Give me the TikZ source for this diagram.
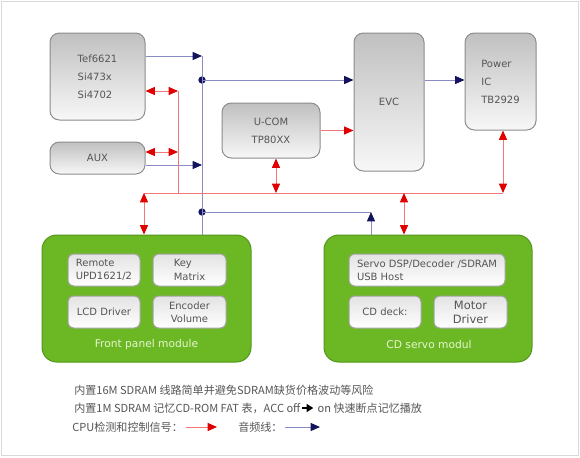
\documentclass[tikz,border=0pt]{standalone}
\usepackage{fontspec}
\setmainfont{DejaVu Sans}
\newfontfamily\cjk{Noto Sans CJK SC}
\usetikzlibrary{arrows.meta,positioning}
\definecolor{boxedge}{HTML}{8C8C8C}
\definecolor{boxtop}{HTML}{C0C0C0}
\definecolor{leaf}{HTML}{6CB824}
\definecolor{leafedge}{HTML}{52961A}
\definecolor{leaftext}{HTML}{E6F5D0}
\definecolor{audio}{HTML}{8A8AC4}
\definecolor{audiotip}{HTML}{14145E}
\definecolor{ctrl}{HTML}{F07878}
\definecolor{ctrltip}{HTML}{E00000}
\definecolor{ink}{HTML}{555555}
\tikzset{
  dims/.style 2 args={minimum width=#1*0.75pt,minimum height=#2*0.75pt},
  chip/.style={draw=boxedge,line width=0.75pt,rounded corners=7pt,top color=boxtop,
    bottom color=white!94!gray,text=ink,font=\fontsize{7.5}{13.5}\selectfont,
    align=left,inner sep=0pt},
  module/.style={draw=leafedge,line width=0.75pt,fill=leaf,rounded corners=11pt,inner sep=0pt},
  part/.style={draw=boxedge!80,line width=0.75pt,rounded corners=4.5pt,top color=gray!22,
    bottom color=white,text=ink,font=\fontsize{7.5}{10}\selectfont,align=left,inner sep=0pt},
  modlabel/.style={text=leaftext,font=\fontsize{8}{10}\selectfont,inner sep=0pt},
  note/.style={anchor=west,text=ink,font=\cjk\fontsize{8.3}{10}\selectfont,inner sep=0pt},
  audioline/.style={draw=audio,line width=0.75pt},
  audioarrow/.style={audioline,-{Triangle[length=7pt,width=6pt,color=audiotip]}},
  ctrlline/.style={draw=ctrl,line width=0.75pt},
  ctrlarrow/.style={ctrlline,-{Triangle[length=7pt,width=6pt,color=ctrltip]}},
  ctrlboth/.style={ctrlline,{Triangle[length=7pt,width=6pt,color=ctrltip]}-{Triangle[length=7pt,width=6pt,color=ctrltip]}},
  tap/.style={circle,fill=audiotip,inner sep=0pt,minimum size=5.5pt}
}
\begin{document}
\begin{tikzpicture}[x=0.75pt,y=-0.75pt]
  \useasboundingbox (0,0) rectangle (580,457);
  \draw[gray!30,line width=0.75pt] (1,1) rectangle (578,455);
  % source and output chips
  \node[chip,dims={95}{87}] (tuner) at (97.5,76.5) {Tef6621\\Si473x\\Si4702};
  \node[chip,dims={95}{32},align=center] (aux) at (97.5,158) {AUX};
  \node[chip,dims={98}{55},align=center] (ucom) at (271,130.5) {U-COM\\TP80XX};
  \node[chip,dims={70}{138}] (evc) at (389,102) {EVC};
  \node[chip,dims={71}{97}] (power) at (500.5,81.5) {Power\\IC\\TB2929};
  % front panel
  \node[module,dims={209}{127}] (front) at (146.5,298.5) {};
  \node[part,dims={72}{32}] (remote) at (104,270) {Remote\\UPD1621/2};
  \node[part,dims={73}{32}] (keys) at (189.5,270) {Key\\Matrix};
  \node[part,dims={72}{32}] (lcd) at (104,312) {LCD Driver};
  \node[part,dims={73}{32},align=center] (encoder) at (189.5,312) {Encoder\\Volume};
  \node[modlabel] (frontlbl) at (146.5,345) {Front panel module};
  % cd servo
  \node[module,dims={208}{127}] (cd) at (428,298.5) {};
  \node[part,dims={156}{32}] (dsp) at (427,270) {Servo DSP/Decoder /SDRAM\\USB Host};
  \node[part,dims={72}{32}] (deck) at (385,312) {CD deck:};
  \node[part,dims={73}{32},align=center,font=\fontsize{8.6}{10.5}\selectfont] (motor) at (470.5,312) {Motor\\Driver};
  \node[modlabel] (cdlbl) at (429,345) {CD servo modul};
  % audio lines
  \coordinate (busTop) at (202,56);
  \coordinate (auxIn) at (202,165);
  \coordinate (cdUp) at (371,212);
  \node[tap] (tapEvc) at (202,80) {};
  \node[tap] (tapCd) at (202,212) {};
  \draw[audioline] (busTop) -- (busTop |- front.north);
  \draw[audioarrow] (tuner.east |- busTop) -- (busTop);
  \draw[audioarrow] (aux.east |- auxIn) -- (auxIn);
  \draw[audioarrow] (tapEvc.center) -- (tapEvc.center -| evc.west);
  \draw[audioarrow] (evc.east |- tapEvc.center) -- (power.west |- tapEvc.center);
  \draw[audioline] (tapCd.center) -- (cdUp);
  \draw[audioarrow] (cdUp |- cd.north) -- (cdUp);
  % control lines
  \coordinate (ctrlTop) at (178,91);
  \coordinate (ctrlAux) at (178,152);
  \coordinate (ctrlMid) at (178,193);
  \coordinate (ctrlLeft) at (144,193);
  \coordinate (ctrlUcom) at (276,193);
  \coordinate (ctrlCd) at (404,193);
  \coordinate (ctrlRight) at (503,193);
  \draw[ctrlline] (ctrlLeft) -- (ctrlRight);
  \draw[ctrlline] (ctrlTop) -- (ctrlMid);
  \draw[ctrlboth] (tuner.east |- ctrlTop) -- (ctrlTop);
  \draw[ctrlboth] (aux.east |- ctrlAux) -- (ctrlAux);
  \draw[ctrlboth] (ctrlUcom |- ucom.south) -- (ctrlUcom);
  \draw[ctrlboth] (ctrlRight |- power.south) -- (ctrlRight);
  \draw[ctrlboth] (ctrlLeft) -- (ctrlLeft |- front.north);
  \draw[ctrlboth] (ctrlCd) -- (ctrlCd |- cd.north);
  \draw[ctrlarrow] (ucom.east) -- (evc.west |- ucom.east);
  % notes and key
  \node[note] (note1) at (74,390) {内置16M SDRAM 线路简单并避免SDRAM缺货价格波动等风险};
  \node[note] (note2a) at (74,408) {内置1M SDRAM 记忆CD-ROM FAT 表，ACC off};
  \node[note,right=12.5pt of note2a] (note2b) {on 快速断点记忆播放};
  \draw[line width=1pt,-{Triangle[length=5pt,width=6pt]}] ([xshift=1pt]note2a.east) -- ([xshift=-3pt]note2b.west);
  \node[note] (keyCtrl) at (72,427) {CPU检测和控制信号：};
  \node[note] (keyAudio) at (238,427) {音频线：};
  \coordinate (keyCtrlA) at (186,427);
  \coordinate (keyCtrlB) at (217,427);
  \coordinate (keyAudioA) at (285,427);
  \coordinate (keyAudioB) at (320,427);
  \draw[ctrlarrow] (keyCtrlA) -- (keyCtrlB);
  \draw[audioarrow] (keyAudioA) -- (keyAudioB);
\end{tikzpicture}
\end{document}
